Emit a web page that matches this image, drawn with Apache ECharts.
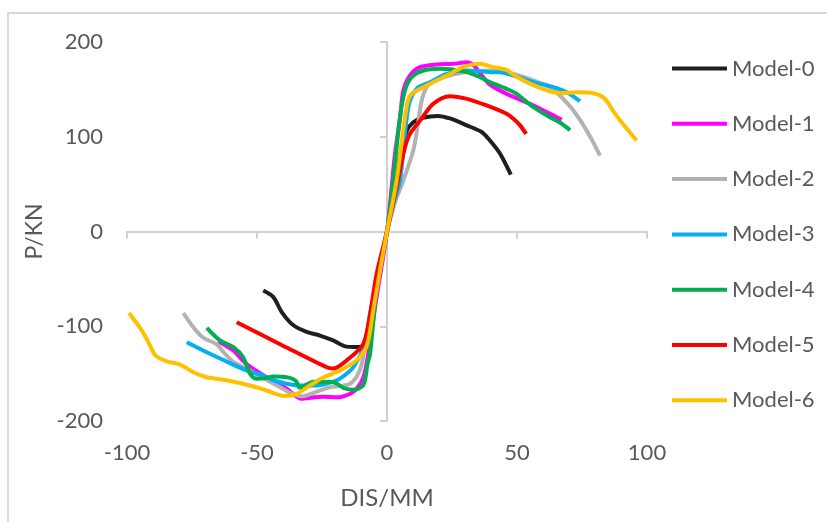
<!DOCTYPE html>
<html>
<head>
<meta charset="utf-8">
<script src="https://cdn.jsdelivr.net/npm/echarts@6/dist/echarts.min.js"></script>
<style>html,body{margin:0;padding:0;background:#fff}#c{width:827px;height:522px}</style>
</head>
<body>
<div id="c"></div>
<script>
const seriesNames = ['Model-0','Model-1','Model-2','Model-3','Model-4','Model-5','Model-6'];
const seriesColors = ['#1f1f1f','#ff00ff','#b2b2b2','#00b0f0','#00b050','#ff0000','#ffc000'];
const xTicks = [-100, -50, 0, 50, 100];
const yTicks = [-200, -100, 0, 100, 200];

const model0 = [[-47.6,-62.3],[-43.7,-69.3],[-40.5,-85],[-36,-99],[-30.9,-106],[-25.8,-109.8],[-20.7,-115],[-15.5,-121.5],[-11,-122],[-8.8,-120],[-4,-60],[0,0],[5,80],[7.6,106],[10,115],[13.8,120],[19.6,122],[24.2,119.3],[30.7,112],[36.4,105],[39.6,96],[43.5,82],[47.6,60]];
const model1 = [[-64.9,-116],[-59.1,-125.6],[-54,-140],[-46.3,-153.8],[-38.6,-166],[-33,-176.5],[-28,-175],[-24.5,-174.5],[-19.3,-175],[-14.2,-171.3],[-11.7,-166],[-9.1,-154],[-7.2,-129],[-4,-69],[0,0],[3,80],[5,120],[6.3,148.8],[8.8,164.6],[12.7,173.4],[19.1,176.3],[25.5,177],[30.7,178.5],[33.5,175],[35.8,167],[39.6,155],[46,145.3],[55,134.8],[61.4,126],[67.2,118]];
const model2 = [[-78.3,-86],[-74.5,-101],[-70.7,-112],[-65.5,-119],[-63,-127],[-59.1,-137.5],[-52.7,-146.7],[-42.4,-162.5],[-33,-174],[-27,-169],[-21.9,-164.3],[-14.2,-160.7],[-10.4,-146],[-8.5,-122],[-6,-80],[-2,-25],[0,0],[3,30],[6.3,54],[10.1,85.5],[12,115],[13.5,140],[16,155],[22,163],[30,168],[40,170],[48.6,166.4],[56.3,159.4],[62.7,152.3],[66.5,143.5],[71.7,127.7],[76.8,106.6],[81.9,80.2]];
const model3 = [[-77,-116.8],[-69.3,-127.4],[-64.2,-134],[-54,-146.7],[-47.6,-152],[-43.7,-157],[-38.6,-160.7],[-33.5,-162.5],[-27,-162.5],[-19.3,-157],[-15.5,-150],[-12.9,-143],[-9,-122],[-6,-80],[-2.5,-30],[0,0],[2.5,30],[5,54],[8.2,131],[11.4,150.6],[16.5,157.6],[23,166.4],[30.7,170],[39.6,168.1],[43.5,168],[48.6,164.6],[56.3,157.6],[64,152.3],[69.1,147],[74.2,137.5]];
const model4 = [[-69.3,-101.6],[-64.2,-115],[-59.1,-122.1],[-55.3,-132.7],[-52.7,-150],[-50.1,-155.5],[-47,-155],[-43.7,-153],[-37.3,-154.5],[-35,-158],[-33.5,-165],[-30.5,-161],[-28.3,-158.5],[-20.6,-159],[-16.8,-165],[-12.9,-167.1],[-9.1,-162],[-7.5,-140],[-6.5,-129],[-4,-62],[0,0],[2.4,54],[5,120.6],[6.9,148.8],[9.5,162.8],[14,169.9],[20.4,171.7],[28.1,169.9],[34.5,164.6],[39.6,157.6],[46,150.6],[49.9,145.3],[56.3,131.2],[62.7,120.6],[66.5,115],[70.4,107]];
const model5 = [[-57.8,-95.7],[-40,-120.5],[-23,-143.5],[-20.6,-144.5],[-15.5,-136],[-9.1,-118.5],[-6.5,-87],[-4,-45],[0,0],[4.3,55.6],[6.9,89],[8.8,103],[12.7,117],[17.8,134.8],[24.2,142.8],[30.7,140],[38.3,133],[46,124.2],[48.6,119],[51.2,112],[53.5,103]];
const model6 = [[-99.2,-86],[-94.3,-104.5],[-91.2,-120],[-89,-131],[-84.7,-137],[-79.6,-140.4],[-74.5,-148.5],[-69.3,-153.8],[-61.7,-157],[-52.7,-162.5],[-46.3,-167.8],[-39.5,-173.5],[-34.5,-171],[-30,-163],[-24.5,-154],[-18.1,-146.7],[-11.7,-136],[-7.8,-121],[-5.3,-83],[-2.7,-41],[0,0],[3.7,54],[6.9,120],[8.8,143],[14,152.3],[23,164.6],[29.3,173.4],[35.8,177],[40,174],[46,170.5],[49,164.6],[55,156],[61.4,149],[66.5,146],[73,147],[79.3,146],[83.5,141],[87.3,126],[90,116],[93,106],[96,96]];
const allData = [model0, model1, model2, model3, model4, model5, model6];

const FONT = 'Lato';
const TXT = '#595959';
const AXC = '#d0d0d0';

const chart = echarts.init(document.getElementById('c'), null, {renderer: 'canvas'});
chart.setOption({
  animation: false,
  backgroundColor: '#fff',
  textStyle: {fontFamily: FONT},
  graphic: [{type: 'rect', shape: {x: 8, y: 13, width: 900, height: 600}, style: {fill: 'none', stroke: '#d9d9d9', lineWidth: 2}, silent: true}],
  grid: {left: 127, top: 42, width: 520, height: 379},
  legend: {
    orient: 'vertical', left: 672, top: 56, padding: 0, icon: 'rect', itemWidth: 55, itemHeight: 4, itemGap: 30.3,
    data: seriesNames,
    textStyle: {fontSize: 22, color: TXT, fontFamily: FONT, lineHeight: 25}
  },
  xAxis: [
    {type: 'value', min: xTicks[0], max: xTicks[xTicks.length-1], interval: 50, position: 'bottom',
     axisLine: {show: false, onZero: false}, axisTick: {show: false}, splitLine: {show: false},
     axisLabel: {fontSize: 22, color: TXT, margin: 21, fontFamily: FONT},
     name: 'DIS/MM', nameLocation: 'middle', nameGap: 65, nameTextStyle: {fontSize: 24, color: TXT, fontFamily: FONT}},
    {type: 'value', min: xTicks[0], max: xTicks[xTicks.length-1], interval: 50, position: 'bottom',
     axisLine: {show: true, onZero: true, onZeroAxisIndex: 0, lineStyle: {color: AXC, width: 2}},
     axisTick: {show: true, length: 7, lineStyle: {color: AXC, width: 2}}, axisLabel: {show: false}, splitLine: {show: false}}
  ],
  yAxis: [
    {type: 'value', min: yTicks[0], max: yTicks[yTicks.length-1], interval: 100, position: 'left',
     axisLine: {show: false, onZero: false}, axisTick: {show: false}, splitLine: {show: false},
     axisLabel: {fontSize: 22, color: TXT, margin: 24, fontFamily: FONT},
     name: 'P/KN', nameLocation: 'middle', nameGap: 81, nameTextStyle: {fontSize: 23, color: TXT, fontFamily: FONT}},
    {type: 'value', min: yTicks[0], max: yTicks[yTicks.length-1], interval: 100, position: 'left',
     axisLine: {show: true, onZero: true, onZeroAxisIndex: 0, lineStyle: {color: AXC, width: 2}},
     axisTick: {show: true, length: 7, lineStyle: {color: AXC, width: 2}}, axisLabel: {show: false}, splitLine: {show: false}}
  ],
  series: seriesNames.map((n, i) => ({
    name: n, type: 'line', xAxisIndex: 0, yAxisIndex: 0, data: allData[i],
    showSymbol: false, smooth: 0.3, color: seriesColors[i],
    lineStyle: {width: 4, color: seriesColors[i]}
  }))
});
</script>
</body>
</html>
